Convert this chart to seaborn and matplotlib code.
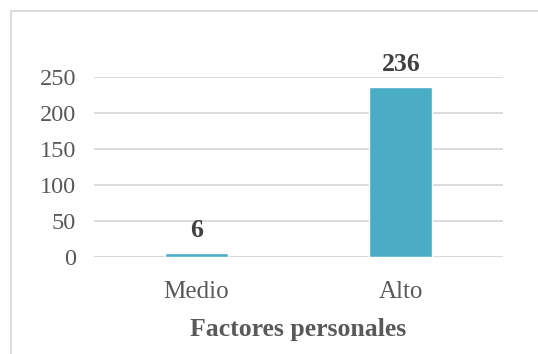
import matplotlib
matplotlib.use("Agg")
import matplotlib.pyplot as plt
import seaborn as sns
import pandas as pd
from matplotlib.patches import Rectangle

categories = ["Medio", "Alto"]
counts = [6, 236]
y_ticks = [0, 50, 100, 150, 200, 250]
x_title = "Factores personales"

sns.set_theme(style="white")
plt.rcParams["font.family"] = ["Liberation Serif", "DejaVu Serif"]

df = pd.DataFrame({"nivel": categories, "n": counts})

fig = plt.figure(figsize=(5.38, 3.54), dpi=100)
ax = fig.add_axes([0.1747, 0.274, 0.7603, 0.5085])

sns.barplot(data=df, x="nivel", y="n", color="#4BACC6", saturation=1,
            width=0.31, ax=ax, zorder=3)

ax.set_ylim(0, 250)
ax.set_yticks(y_ticks)
ax.set_yticklabels([str(t) for t in y_ticks])
ax.yaxis.grid(True, color="#D9D9D9", linewidth=1.3, zorder=0)
ax.xaxis.grid(False)
for s in ax.spines.values():
    s.set_visible(False)
ax.axhline(0, color="#D9D9D9", linewidth=1.3, zorder=2)
ax.tick_params(axis="y", length=0, pad=13, labelsize=17.5, labelcolor="#595959")
ax.tick_params(axis="x", length=0, pad=17, labelsize=18, labelcolor="#595959")
ax.set_xlabel(x_title, fontsize=18.5, fontweight="bold", color="#595959", labelpad=11)
ax.set_ylabel("")

for i, v in enumerate(counts):
    ax.annotate(str(v), (i, v), xytext=(0, 8), textcoords="offset points",
                ha="center", va="bottom", fontsize=18.5, fontweight="bold",
                color="#404040")

fig.patches.append(Rectangle((10.5 / 538, -0.1), 1.2, 1.1 - 11.5 / 354,
                             transform=fig.transFigure, fill=False,
                             edgecolor="#D9D9D9", linewidth=1.3))

fig.savefig("out.png", dpi=100)
